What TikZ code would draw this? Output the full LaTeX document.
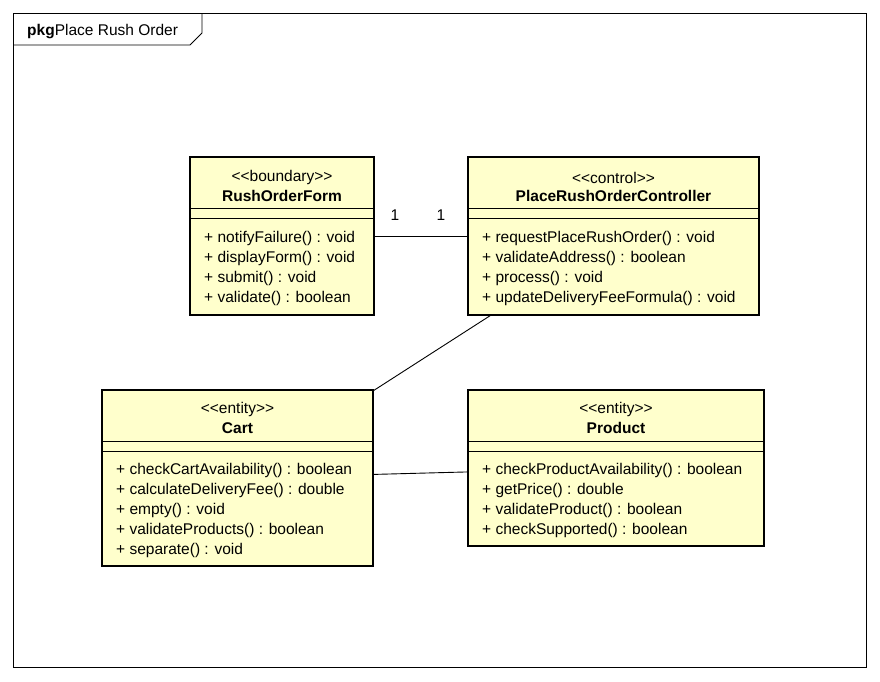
\documentclass[tikz,border=0pt]{standalone}
\usepackage{fontspec}
\setmainfont{Liberation Sans}
\usetikzlibrary{calc}
\definecolor{clsfill}{RGB}{255,255,204}
\newcommand{\lt}{<\kern0pt<}
\newcommand{\gt}{>\kern0pt>}
\tikzset{
  cls/.style={draw=black, fill=clsfill, line width=2.2pt, inner sep=0pt, outer sep=0pt, rectangle},
  sepline/.style={draw=black, line width=0.8pt},
  ster/.style={inner sep=0pt, anchor=center, font=\fontsize{15.5}{18}\selectfont},
  cname/.style={inner sep=0pt, anchor=center, font=\fontsize{15.5}{18}\selectfont\bfseries},
  mth/.style={inner sep=0pt, anchor=west, font=\fontsize{15.5}{18}\selectfont},
  assoc/.style={draw=black, line width=0.9pt},
  mult/.style={inner sep=0pt, anchor=center, font=\fontsize{15.5}{18}\selectfont},
}
\begin{document}
\begin{tikzpicture}[x=1pt, y=-1pt]
\useasboundingbox (0,0) rectangle (880,681);
\fill[white] (0,0) rectangle (880,681);
% frame
\draw[line width=0.8pt] (13,13) rectangle (866,667);
\draw[line width=0.8pt] (13,45) -- (190,45) -- (202,33) -- (202,13);
\node[mth] (title) at (27,32) {\textbf{pkg}Place Rush Order};

% class boxes
\node[cls, minimum width=184pt, minimum height=158pt] (rof) at (282,236) {};
\node[cls, minimum width=291pt, minimum height=158pt] (ctl) at (613.5,236) {};
\node[cls, minimum width=271pt, minimum height=176pt] (cart) at (237.5,478) {};
\node[cls, minimum width=296pt, minimum height=156pt] (prod) at (616,468) {};

% separators
\foreach \c in {rof,ctl,cart,prod}{
  \draw[sepline] ($(\c.north west)+(0,51)$) -- ($(\c.north east)+(0,51)$);
  \draw[sepline] ($(\c.north west)+(0,61.5)$) -- ($(\c.north east)+(0,61.5)$);
}

% RushOrderForm
\node[ster] (rof-s) at ($(rof.north)+(0,20.5)$) {\lt boundary\gt};
\node[cname] (rof-n) at ($(rof.north)+(0,39)$) {RushOrderForm};
\node[mth] (rof-m1) at ($(rof.north west)+(14,81.5)$) {+ notifyFailure() : void};
\node[mth] (rof-m2) at ($(rof.north west)+(14,101)$) {+ displayForm() : void};
\node[mth] (rof-m3) at ($(rof.north west)+(14,121)$) {+ submit() : void};
\node[mth] (rof-m4) at ($(rof.north west)+(14,141)$) {+ validate() : boolean};

% PlaceRushOrderController
\node[ster] (ctl-s) at ($(ctl.north)+(0,20.5)$) {\lt control\gt};
\node[cname] (ctl-n) at ($(ctl.north)+(0,39)$) {PlaceRushOrderController};
\node[mth] (ctl-m1) at ($(ctl.north west)+(14,81.5)$) {+ requestPlaceRushOrder() : void};
\node[mth] (ctl-m2) at ($(ctl.north west)+(14,101)$) {+ validateAddress() : boolean};
\node[mth] (ctl-m3) at ($(ctl.north west)+(14,121)$) {+ process() : void};
\node[mth] (ctl-m4) at ($(ctl.north west)+(14,141)$) {+ updateDeliveryFeeFormula() : void};

% Cart
\node[ster] (cart-s) at ($(cart.north)+(0,19.5)$) {\lt entity\gt};
\node[cname] (cart-n) at ($(cart.north)+(0,38)$) {Cart};
\node[mth] (cart-m1) at ($(cart.north west)+(14,80)$) {+ checkCartAvailability() : boolean};
\node[mth] (cart-m2) at ($(cart.north west)+(14,100)$) {+ calculateDeliveryFee() : double};
\node[mth] (cart-m3) at ($(cart.north west)+(14,120)$) {+ empty() : void};
\node[mth] (cart-m4) at ($(cart.north west)+(14,140)$) {+ validateProducts() : boolean};
\node[mth] (cart-m5) at ($(cart.north west)+(14,160)$) {+ separate() : void};

% Product
\node[ster] (prod-s) at ($(prod.north)+(0,19.5)$) {\lt entity\gt};
\node[cname] (prod-n) at ($(prod.north)+(0,38)$) {Product};
\node[mth] (prod-m1) at ($(prod.north west)+(14,80)$) {+ checkProductAvailability() : boolean};
\node[mth] (prod-m2) at ($(prod.north west)+(14,100)$) {+ getPrice() : double};
\node[mth] (prod-m3) at ($(prod.north west)+(14,120)$) {+ validateProduct() : boolean};
\node[mth] (prod-m4) at ($(prod.north west)+(14,140)$) {+ checkSupported() : boolean};

% associations
\draw[assoc] (rof) -- (ctl);
\draw[assoc] (ctl) -- (cart);
\draw[assoc] (cart) -- (prod);

% multiplicities
\node[mult] (m-rof) at ($(rof.east)+(21,-21)$) {1};
\node[mult] (m-ctl) at ($(ctl.west)+(-27,-21)$) {1};
\end{tikzpicture}
\end{document}
